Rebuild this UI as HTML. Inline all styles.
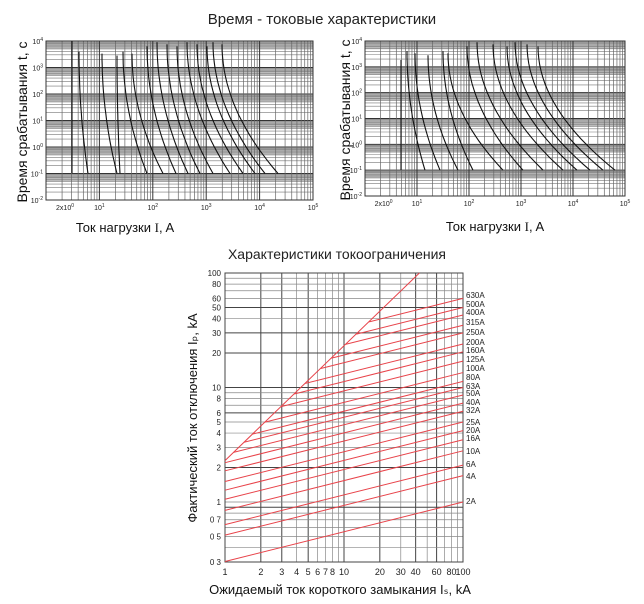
<!DOCTYPE html>
<html><head><meta charset="utf-8"><style>
body{margin:0;background:#fff;}
svg{display:block;font-family:"Liberation Sans",sans-serif;}
</style></head><body>
<svg id="s" width="644" height="604" xmlns="http://www.w3.org/2000/svg">
<text x="322" y="24" font-size="15" text-anchor="middle" fill="#222">Время - токовые характеристики</text>
<text x="337" y="259" font-size="14" text-anchor="middle" fill="#222">Характеристики токоограничения</text>
<text x="125" y="232" font-size="13" text-anchor="middle" fill="#111">Ток нагрузки  <tspan font-family="Liberation Serif">I</tspan>, A</text>
<text x="495" y="231" font-size="13" text-anchor="middle" fill="#111">Ток нагрузки  <tspan font-family="Liberation Serif">I</tspan>, A</text>
<text transform="translate(27,122) rotate(-90)" font-size="14" text-anchor="middle" fill="#111">Время срабатывания  t, c</text>
<text transform="translate(350,120) rotate(-90)" font-size="14" text-anchor="middle" fill="#111">Время срабатывания  t, c</text>
<text transform="translate(197,418) rotate(-90)" font-size="13" text-anchor="middle" fill="#111">Фактический ток отключения  Iₚ, kA</text>
<text x="340" y="594" font-size="13" text-anchor="middle" fill="#111">Ожидаемый ток короткого замыкания  Iₛ, kA</text>
<g id="g"></g>
</svg>
<script>
var g=document.getElementById('g'),h='';
function L(x1,y1,x2,y2,c,w){h+='<line x1="'+x1+'" y1="'+y1+'" x2="'+x2+'" y2="'+y2+'" stroke="'+c+'" stroke-width="'+(w||1)+'"/>';}
function T(x,y,t,s,a){h+='<text x="'+x+'" y="'+y+'" font-size="'+s+'" text-anchor="'+(a||'middle')+'" fill="#222">'+t+'</text>';}
function tc(x0,x1,y0,y1,bots,tops){
 var dy=(y1-y0)/6,dx=(x1-x0)/5;
 for(var d=0;d<6;d++){var yc=y0+d*dy+dy*0.1;h+='<rect x="'+x0+'" y="'+(yc-2)+'" width="'+(x1-x0)+'" height="7" fill="#bbb"/>';}
 for(var d=0;d<6;d++)for(var k=1;k<10;k++){var y=y0+(d+1-Math.log10(k))*dy;L(x0,y,x1,y,k==1?'#333':'#777',k==1?1:0.6);}
 for(var d=0;d<5;d++)for(var k=1;k<10;k++){var x=x0+(d+Math.log10(k))*dx;L(x,y0,x,y1,k==1?'#333':'#666',k==1?1:0.7);}
 h+='<rect x="'+x0+'" y="'+y0+'" width="'+(x1-x0)+'" height="'+(y1-y0)+'" fill="none" stroke="#333"/>';
 var yb=y0+5*dy;
 for(var i=0;i<bots.length;i++){var xb=bots[i],xt=tops[i],yt=y0+(i<5?0.4:0.05)*dy+(i%3)*2;var p='';
  for(var j=0;j<=20;j++){var u=j/20;var x=xb-(xb-xt)*(1-(1-u)*(1-u));var y=yb-(yb-yt)*u;p+=(j?'L':'M')+x.toFixed(1)+' '+y.toFixed(1);}
  h+='<path d="'+p+'" fill="none" stroke="#111" stroke-width="1.1"/>';}
 var ex=['4','3','2','1','0','-1','-2'];
 for(var d=0;d<=6;d++)T(x0-3,y0+d*dy+3,'10<tspan font-size="5" dy="-3">'+ex[d]+'</tspan>',7,'end');
 T(x0+0.3*dx+3,y1+10,'2x10<tspan font-size="5" dy="-3">0</tspan>',7);
 for(var d=1;d<=5;d++)T(x0+d*dx,y1+10,'10<tspan font-size="5" dy="-3">'+d+'</tspan>',7);
}
tc(46,313,41,200,[88,117,120,147,163,176,188,200,213,230,243,255,265,278],[79,102,117,123,132,147,157,167,177,187,197,207,213,222]);
L(72,41,72,173,'#111',1.1);
tc(365,625,41,196,[425,440,458,473,503,523,543,563,577,590,603,615],[407,415,428,443,448,467,477,493,507,515,527,538]);
L(401,60,401,170,'#111',1.1);
var X0=225,X1=463,Y0=273,Y1=562;
function px(v){return X0+Math.log10(v)*119;}
function py(v){return 502-Math.log10(v)*114.5;}
[1,2,3,4,5,6,7,8,9,10,20,30,40,50,60,70,80,90,100].forEach(function(v){var dark=[1,2,3,5,10,20,40,60,100].indexOf(v)>=0;L(px(v),Y0,px(v),Y1,dark?'#444':'#888',dark?1:0.7);});
[0.3,0.4,0.5,0.6,0.7,0.8,0.9,1,2,3,4,5,6,7,8,9,10,20,30,40,50,60,70,80,90,100].forEach(function(v){var dark=[0.9,2,6,10,20,30,50,100].indexOf(v)>=0;L(X0,py(v),X1,py(v),dark?'#444':'#888',dark?1:0.7);});
h+='<rect x="'+X0+'" y="'+Y0+'" width="'+(X1-X0)+'" height="'+(Y1-Y0)+'" fill="none" stroke="#444"/>';
[1,2,3,4,5,6,7,8,10,20,30,40,60,80,100].forEach(function(v){T(px(v),Y1+13,v,9);});
[[0.3,'0 3'],[0.5,'0 5'],[0.7,'0 7'],[1,'1'],[2,'2'],[3,'3'],[4,'4'],[5,'5'],[6,'6'],[8,'8'],[10,'10'],[20,'20'],[30,'30'],[40,'40'],[50,'50'],[60,'60'],[80,'80'],[100,'100']].forEach(function(a){T(X0-4,py(a[0])+3,a[1],8,'end');});
var red='#e8434a';
L(px(1),py(2.3),px(43),py(100),red,1);
var lines=[[60,298,'630A'],[50,307,'500A'],[43,315,'400A'],[35,325,'315A'],[30,335,'250A'],[24,345,'200A'],[20.5,353,'160A'],[17,362,'125A'],[13.5,371,'100A'],[11.3,380,'80A'],[10,389,'63A'],[8.6,396,'50A'],[7.3,405,'40A'],[6.2,413,'32A'],[5,425,'25A'],[4.2,433,'20A'],[3.5,441,'16A'],[2.8,454,'10A'],[2.1,467,'6A'],[1.7,479,'4A'],[1.0,504,'2A']];
var s=0.26;
lines.forEach(function(l){var e=l[0];var a=e/Math.pow(100,s);
 var xi=Math.max(1,Math.pow(a/2.3,1/(1-s)));
 L(px(xi),py(a*Math.pow(xi,s)),px(100),py(e),red,1);
 T(466,l[1],l[2],8,'start');});
g.innerHTML=h;
</script>
</body></html>
